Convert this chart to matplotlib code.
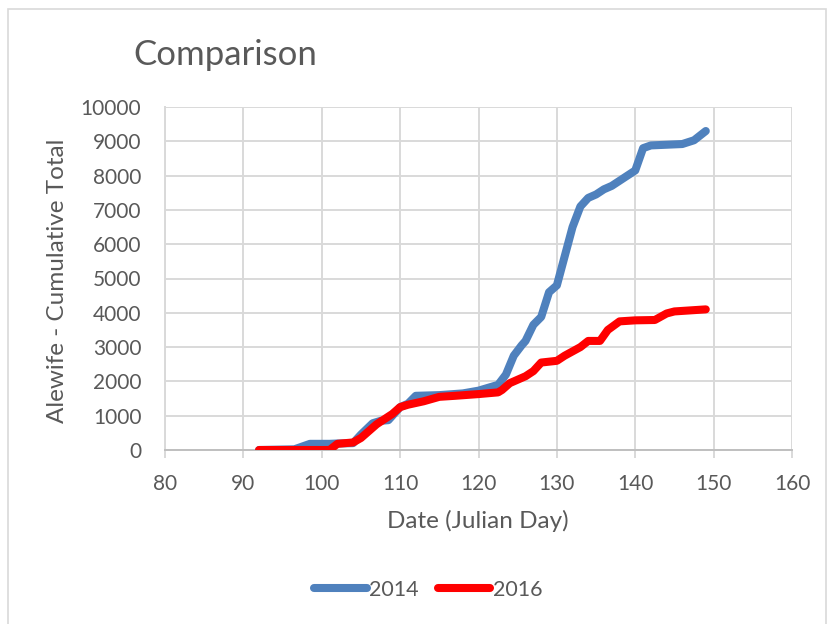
import matplotlib.pyplot as plt
from matplotlib.patches import Rectangle

plt.rcParams['font.family'] = ['Lato', 'DejaVu Sans']

# Julian day / cumulative alewife counts
days_2014 = [92, 96.5, 97.5, 98.5, 101, 102, 104, 105, 106.5, 107.5, 108.5, 110, 111, 112,
             115, 118, 120, 122.5, 123.5, 124.5, 125.5, 126, 127, 128, 129, 130, 131, 132,
             133, 134, 135, 136, 137, 138, 139, 140, 141, 142, 144, 146, 147.5, 149]
total_2014 = [0, 20, 100, 180, 180, 190, 200, 450, 780, 850, 870, 1250, 1350, 1580,
              1600, 1650, 1730, 1900, 2200, 2750, 3050, 3180, 3650, 3880, 4600, 4800, 5650, 6500,
              7100, 7350, 7450, 7600, 7700, 7850, 8000, 8150, 8800, 8880, 8900, 8920, 9030, 9300]

days_2016 = [92, 101, 102, 104, 105, 106, 107, 108, 109, 110, 111, 113, 115, 117, 120,
             122.5, 123, 124, 126, 127, 128, 130, 131, 133, 134, 135.5, 136.5, 138, 140,
             142.5, 144, 145, 149]
total_2016 = [0, 0, 180, 220, 350, 550, 750, 900, 1050, 1250, 1320, 1420, 1550, 1580, 1630,
              1680, 1750, 1950, 2150, 2300, 2550, 2600, 2750, 3000, 3180, 3180, 3500, 3750, 3780,
              3790, 3980, 4040, 4100]

x_ticks = list(range(80, 161, 10))
y_ticks = list(range(0, 10001, 1000))

txt = '#595959'
grid = '#D9D9D9'
W, H = 833, 624

fig = plt.figure(figsize=(W / 100, H / 100), dpi=100)
fig.patches.append(Rectangle((8 / W, -0.1), 818 / W, 1.1 - 9 / H, transform=fig.transFigure,
                             fill=False, edgecolor=grid, linewidth=1.2))

ax = fig.add_axes([165 / W, 1 - 450 / H, 627 / W, 343 / H])
ax.plot(days_2014, total_2014, color='#4F81BD', lw=5.8, solid_capstyle='round',
        solid_joinstyle='round', label='2014', zorder=3)
ax.plot(days_2016, total_2016, color='#FF0000', lw=5.8, solid_capstyle='round',
        solid_joinstyle='round', label='2016', zorder=4)

ax.set_xlim(80, 160)
ax.set_ylim(0, 10000)
ax.set_xticks(x_ticks)
ax.set_yticks(y_ticks)
ax.grid(True, color=grid, lw=1.4)
ax.set_axisbelow(True)
for s in ['top', 'right']:
    ax.spines[s].set_visible(False)
ax.spines['left'].set_color(grid)
ax.spines['left'].set_linewidth(1.4)
ax.spines['bottom'].set_color('#BFBFBF')
ax.spines['bottom'].set_linewidth(1.4)
ax.tick_params(axis='x', length=6, color=grid, width=1.4, labelsize=15, labelcolor=txt, pad=11)
ax.tick_params(axis='y', length=0, labelsize=15, labelcolor=txt, pad=17)

fig.text(478 / W, 1 - 528 / H, 'Date (Julian Day)', fontsize=17.5, color=txt,
         ha='center', va='baseline')
fig.text(58 / W, 1 - 281 / H, 'Alewife - Cumulative Total', rotation=90, fontsize=17.5,
         color=txt, ha='center', va='center')
fig.text(133 / W, 1 - 65 / H, 'Comparison', fontsize=25, color=txt, ha='left', va='baseline')

fig.legend(loc='center', bbox_to_anchor=(428 / W, 1 - 590 / H), ncol=2, frameon=False,
           fontsize=15.5, labelcolor=txt, handlelength=2.45, handletextpad=0.1,
           columnspacing=0.9)

fig.savefig('out.png', dpi=100)
